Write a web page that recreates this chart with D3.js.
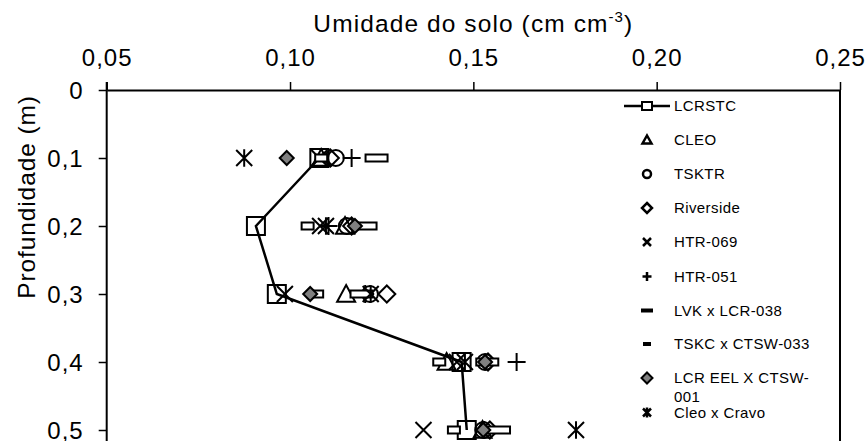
<!DOCTYPE html>
<html><head><meta charset="utf-8">
<script src="https://cdn.jsdelivr.net/npm/d3@7"></script>
<style>
html,body{margin:0;padding:0;background:#fff;}
svg{display:block;font-family:"Liberation Sans",Arial,sans-serif;}
</style></head>
<body>
<svg id="chart" width="868" height="441"></svg>
<script>
const depths = [0.1, 0.2, 0.3, 0.4, 0.5];
const xTicks = [0.05, 0.10, 0.15, 0.20, 0.25];
const yTicks = [0, 0.1, 0.2, 0.3, 0.4, 0.5];
const seriesNames = ["LCRSTC","CLEO","TSKTR","Riverside","HTR-069","HTR-051","LVK x LCR-038","TSKC x CTSW-033","LCR EEL X CTSW-001","Cleo x Cravo"];
const seriesMarkers = ["square","triangle","circle","diamond","x","plus","longdash","shortdash","graydiamond","asterisk"];
const LCRSTC   = [0.1080, 0.0907, 0.0964, 0.1468, 0.1482];
const CLEO     = [0.1085, 0.1150, 0.1153, 0.1427, 0.1525];
const TSKTR    = [0.1125, 0.1155, 0.1218, 0.1532, 0.1527];
const Riverside= [0.1110, 0.1168, 0.1264, 0.1540, 0.1545];
const HTR069   = [0.1080, 0.1082, 0.0986, 0.1455, 0.1364];
const HTR051   = [0.1168, 0.1105, 0.1205, 0.1618, 0.1530];
const LVK_LCR038 = [0.1236, 0.1206, 0.1195, 0.1538, 0.1570];
const TSKC_CTSW033 = [0.1085, 0.1048, 0.1074, 0.1407, 0.1447];
const LCREEL_CTSW001 = [0.0991, 0.1177, 0.1055, 0.1532, 0.1527];
const Cleo_Cravo = [0.0875, 0.1098, 0.1220, 0.1477, 0.1780];
const seriesValues = [LCRSTC, CLEO, TSKTR, Riverside, HTR069, HTR051, LVK_LCR038, TSKC_CTSW033, LCREEL_CTSW001, Cleo_Cravo];

const svg = d3.select("#chart");
const plotLeft = 106.7, plotRight = 840, plotTop = 90, plotBottom = 430;
const x = d3.scaleLinear().domain([0.05, 0.25]).range([plotLeft, plotRight]);
const y = d3.scaleLinear().domain([0, 0.5]).range([plotTop, plotBottom]);

function drawMarker(g, type, s) {
  const sw = 2;
  if (type === "square") {
    const h = 9*s;
    g.append("rect").attr("x",-h).attr("y",-h).attr("width",2*h).attr("height",2*h)
      .attr("fill","none").attr("stroke","#000").attr("stroke-width",sw);
  } else if (type === "triangle") {
    const h = 9*s;
    g.append("path").attr("d",`M0,${-h}L${h},${h*0.85}L${-h},${h*0.85}Z`)
      .attr("fill","none").attr("stroke","#000").attr("stroke-width",sw);
  } else if (type === "circle") {
    g.append("circle").attr("r",8*s).attr("fill","none").attr("stroke","#000").attr("stroke-width",sw);
  } else if (type === "diamond") {
    const h = 8.5*s;
    g.append("path").attr("d",`M0,${-h}L${h},0L0,${h}L${-h},0Z`)
      .attr("fill","none").attr("stroke","#000").attr("stroke-width",sw);
  } else if (type === "graydiamond") {
    const h = 7*s;
    g.append("path").attr("d",`M0,${-h}L${h},0L0,${h}L${-h},0Z`)
      .attr("fill","#808080").attr("stroke","#000").attr("stroke-width",sw);
  } else if (type === "x") {
    const h = 8*s;
    g.append("path").attr("d",`M${-h},${-h}L${h},${h}M${-h},${h}L${h},${-h}`)
      .attr("stroke","#000").attr("stroke-width",sw);
  } else if (type === "plus") {
    const h = 9*s;
    g.append("path").attr("d",`M${-h},0L${h},0M0,${-h}L0,${h}`)
      .attr("stroke","#000").attr("stroke-width",sw);
  } else if (type === "asterisk") {
    const h = 8*s;
    g.append("path").attr("d",`M${-h},${-h}L${h},${h}M${-h},${h}L${h},${-h}M0,${-h*1.1}L0,${h*1.1}`)
      .attr("stroke","#000").attr("stroke-width",sw);
  } else if (type === "longdash") {
    const w = 11*s, h = 3.5*s;
    g.append("rect").attr("x",-w).attr("y",-h).attr("width",2*w).attr("height",2*h)
      .attr("fill","#fff").attr("stroke","#000").attr("stroke-width",sw);
  } else if (type === "shortdash") {
    const w = 6*s, h = 3.5*s;
    g.append("rect").attr("x",-w).attr("y",-h).attr("width",2*w).attr("height",2*h)
      .attr("fill","#fff").attr("stroke","#000").attr("stroke-width",sw);
  }
}

function drawLegendMarker(g, type) {
  const sw = 2.5;
  if (type === "square") {
    g.append("path").attr("d","M-23,0L23,0").attr("stroke","#000").attr("stroke-width",2.5);
    g.append("rect").attr("x",-5).attr("y",-4).attr("width",10).attr("height",8)
      .attr("fill","#fff").attr("stroke","#000").attr("stroke-width",2);
  } else if (type === "triangle") {
    g.append("path").attr("d","M0,-4.5L4.5,3.5L-4.5,3.5Z").attr("fill","none").attr("stroke","#000").attr("stroke-width",sw);
  } else if (type === "circle") {
    g.append("circle").attr("r",4).attr("fill","none").attr("stroke","#000").attr("stroke-width",sw);
  } else if (type === "diamond") {
    g.append("path").attr("d","M0,-5L5,0L0,5L-5,0Z").attr("fill","none").attr("stroke","#000").attr("stroke-width",sw);
  } else if (type === "graydiamond") {
    g.append("path").attr("d","M0,-5.5L5.5,0L0,5.5L-5.5,0Z").attr("fill","#808080").attr("stroke","#000").attr("stroke-width",2);
  } else if (type === "x") {
    g.append("path").attr("d","M-4,-4L4,4M-4,4L4,-4").attr("stroke","#000").attr("stroke-width",sw);
  } else if (type === "plus") {
    g.append("path").attr("d","M-4.5,0L4.5,0M0,-4.5L0,4.5").attr("stroke","#000").attr("stroke-width",sw);
  } else if (type === "asterisk") {
    g.append("path").attr("d","M-4,-4L4,4M-4,4L4,-4M0,-5L0,5").attr("stroke","#000").attr("stroke-width",sw);
  } else if (type === "longdash") {
    g.append("rect").attr("x",-6).attr("y",-2).attr("width",12).attr("height",4).attr("fill","#000");
  } else if (type === "shortdash") {
    g.append("rect").attr("x",-4).attr("y",-2).attr("width",8).attr("height",4).attr("fill","#000");
  }
}

// Axes
const xAxis = d3.axisTop(x).tickValues(xTicks).tickSize(8).tickSizeOuter(0)
  .tickFormat(d => d3.format(".2f")(d).replace(".", ","));
const gx = svg.append("g").attr("transform",`translate(0,${plotTop})`).call(xAxis);
gx.select(".domain").attr("stroke","#000").attr("stroke-width",2);
gx.selectAll(".tick line").attr("stroke","#000").attr("stroke-width",1.5);
gx.selectAll(".tick text").attr("font-size","24px").attr("letter-spacing","1px")
  .attr("fill","#000").attr("y",-24).attr("dy",0)
  .attr("font-family","'Liberation Sans',Arial,sans-serif");

const yAxis = d3.axisLeft(y).tickValues(yTicks).tickSize(8).tickSizeOuter(0)
  .tickFormat(d => d === 0 ? "0" : d3.format(".1f")(d).replace(".", ","));
const gy = svg.append("g").attr("transform",`translate(${plotLeft},0)`).call(yAxis);
gy.select(".domain").remove();
gy.selectAll(".tick line").attr("stroke","#000").attr("stroke-width",1.5);
gy.selectAll(".tick text").attr("font-size","24px").attr("letter-spacing","1px")
  .attr("fill","#000").attr("x",-23).attr("dy","0.34em")
  .attr("font-family","'Liberation Sans',Arial,sans-serif");
svg.append("line").attr("x1",plotLeft).attr("x2",plotLeft).attr("y1",plotTop-8).attr("y2",445)
  .attr("stroke","#000").attr("stroke-width",2);
svg.append("line").attr("x1",plotRight).attr("x2",plotRight).attr("y1",plotTop).attr("y2",445)
  .attr("stroke","#000").attr("stroke-width",2);

// Titles
const t = svg.append("text").attr("x",(plotLeft+plotRight)/2).attr("y",31.5).attr("text-anchor","middle")
  .attr("font-size","24.5px").attr("letter-spacing","1.1px").attr("fill","#000");
t.append("tspan").text("Umidade do solo (cm cm");
t.append("tspan").attr("font-size","15px").attr("dy",-10).text("-3");
t.append("tspan").attr("dy",10).text(")");

svg.append("text").attr("transform",`translate(35,197) rotate(-90)`).attr("text-anchor","middle")
  .attr("font-size","24.5px").attr("letter-spacing","0.9px").attr("fill","#000")
  .text("Profundidade (m)");

// LCRSTC line
const line = d3.line().x(d => x(d[0])).y(d => y(d[1]));
svg.append("path").datum(LCRSTC.map((v,i) => [v, depths[i]]))
  .attr("d", line).attr("fill","none").attr("stroke","#000").attr("stroke-width",2.5);

// Markers
seriesValues.forEach((vals, si) => {
  const type = seriesMarkers[si];
  vals.forEach((v, i) => {
    const g = svg.append("g").attr("transform",`translate(${x(v)},${y(depths[i])})`);
    drawMarker(g, type, 1);
  });
});

// Legend
const legendY = [106, 140, 174, 208, 242, 276.5, 310.5, 344, 378, 412.5];
const legendMarkerX = 647, legendTextX = 674;
seriesNames.forEach((name, i) => {
  const g = svg.append("g").attr("transform",`translate(${legendMarkerX},${legendY[i]})`);
  drawLegendMarker(g, seriesMarkers[i]);
  const txt = svg.append("text").attr("x",legendTextX).attr("y",legendY[i]).attr("dy","0.36em")
    .attr("font-size","15px").attr("letter-spacing","0.4px").attr("fill","#000");
  if (name === "LCR EEL X CTSW-001") {
    txt.text("LCR EEL X CTSW-");
    svg.append("text").attr("x",legendTextX).attr("y",legendY[i]+19).attr("dy","0.36em")
      .attr("font-size","15px").attr("letter-spacing","0.4px").attr("fill","#000").text("001");
  } else {
    txt.text(name);
  }
});
</script>
</body></html>
